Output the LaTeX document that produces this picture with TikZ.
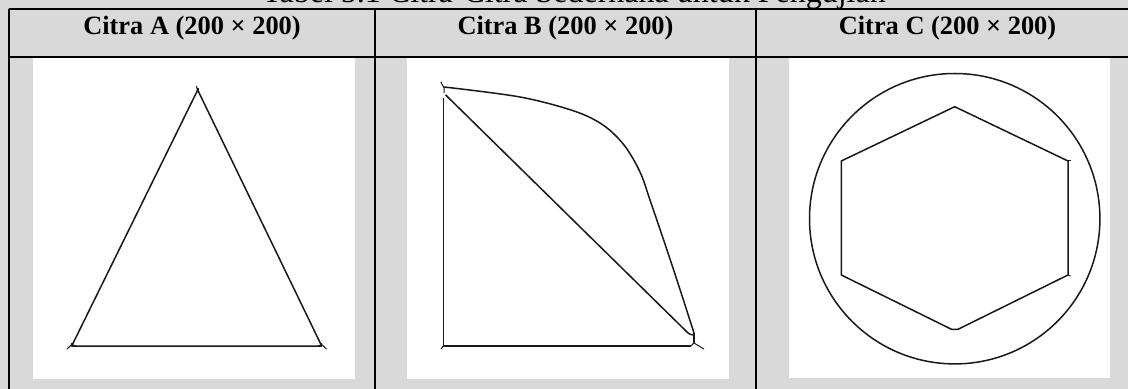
\documentclass[tikz,border=0pt]{standalone}
\usepackage{fontspec}
\setmainfont{Liberation Serif}
\definecolor{bg}{RGB}{217,217,217}
\definecolor{ink}{RGB}{25,25,25}
\begin{document}
\begin{tikzpicture}[x=0.5pt,y=-0.5pt,
  rule/.style={line width=1pt,black},
  figline/.style={line width=0.75pt,ink,line join=round},
  tick/.style={line width=0.5pt,ink},
  head/.style={font=\bfseries\fontsize{13.2}{15}\selectfont,anchor=base,inner sep=0pt},
  imgbox/.style={fill=white,draw=none}]
\useasboundingbox (0,0) rectangle (1128,389);
\clip (0,0) rectangle (1128,389);
\fill[bg] (0,0) rectangle (1128,389);
% title (cut off by the page edge, as in the reference)
\node[font=\fontsize{16}{19}\selectfont,anchor=base,inner sep=0pt] (title) at (574,2.5) {Tabel 5.1 Citra-Citra Sederhana untuk Pengujian};
% image areas
\fill[imgbox] (33,57) rectangle (355,379);
\fill[imgbox] (407,57) rectangle (729,379);
\fill[imgbox] (789,57) rectangle (1110,378);
% table rules
\draw[rule] (9,9) -- (1139,9);
\draw[rule] (9,57) -- (1139,57);
\draw[rule] (9,9) -- (9,395);
\draw[rule] (375,9) -- (375,395);
\draw[rule] (756,9) -- (756,395);
\draw[rule] (1139,9) -- (1139,395);
% headers
\node[head] (ha) at (192,35) {Citra A (200 × 200)};
\node[head] (hb) at (565.5,35) {Citra B (200 × 200)};
\node[head] (hc) at (947.5,35) {Citra C (200 × 200)};
% Citra A: triangle
\draw[figline] (197.7,90) -- (321.7,346) -- (71.7,346) -- cycle;
\draw[tick] (196.5,86) -- (197.5,91);
\fill[ink] (196.8,88.5) rectangle (198.8,92);
\draw[tick] (67,349) -- (71.7,344.5) -- (76,346);
\draw[tick] (71.7,343) -- (71.7,346);
\draw[tick] (318,346) -- (321.7,344.5) -- (326.5,349);
\draw[tick] (321.7,343) -- (321.7,346);
% Citra B
\draw[figline] (443.3,98) -- (443.3,346) -- (690.7,346);
\draw[figline] (445.7,95) -- (687,332) .. controls (689.5,334.5) and (691.5,335) .. (694,335);
\draw[figline] plot[smooth,tension=0.55] coordinates {(444,87) (520,97) (574,111) (603,125) (624,145) (640,172) (651,203) (672,265) (694,333)};
\draw[figline] (694,333) -- (694,343);
\draw[tick] (440.7,81.7) -- (444,88) -- (444,93);
\draw[tick] (690.7,346) -- (694,343) -- (704,349);
\draw[tick] (443.3,346) -- (441,349);
% Citra C
\draw[figline] (954.7,218.7) circle [radius=72.6pt];
\draw[figline] (954.7,106.7) -- (1068,161) -- (1068,275) -- (958,329.3) -- (951.5,329.3) -- (841.3,275) -- (841.3,161) -- cycle;
\draw[tick] (1068,161) -- (1070.5,161);
\draw[tick] (1068,275) -- (1070.5,276);
\end{tikzpicture}
\end{document}
